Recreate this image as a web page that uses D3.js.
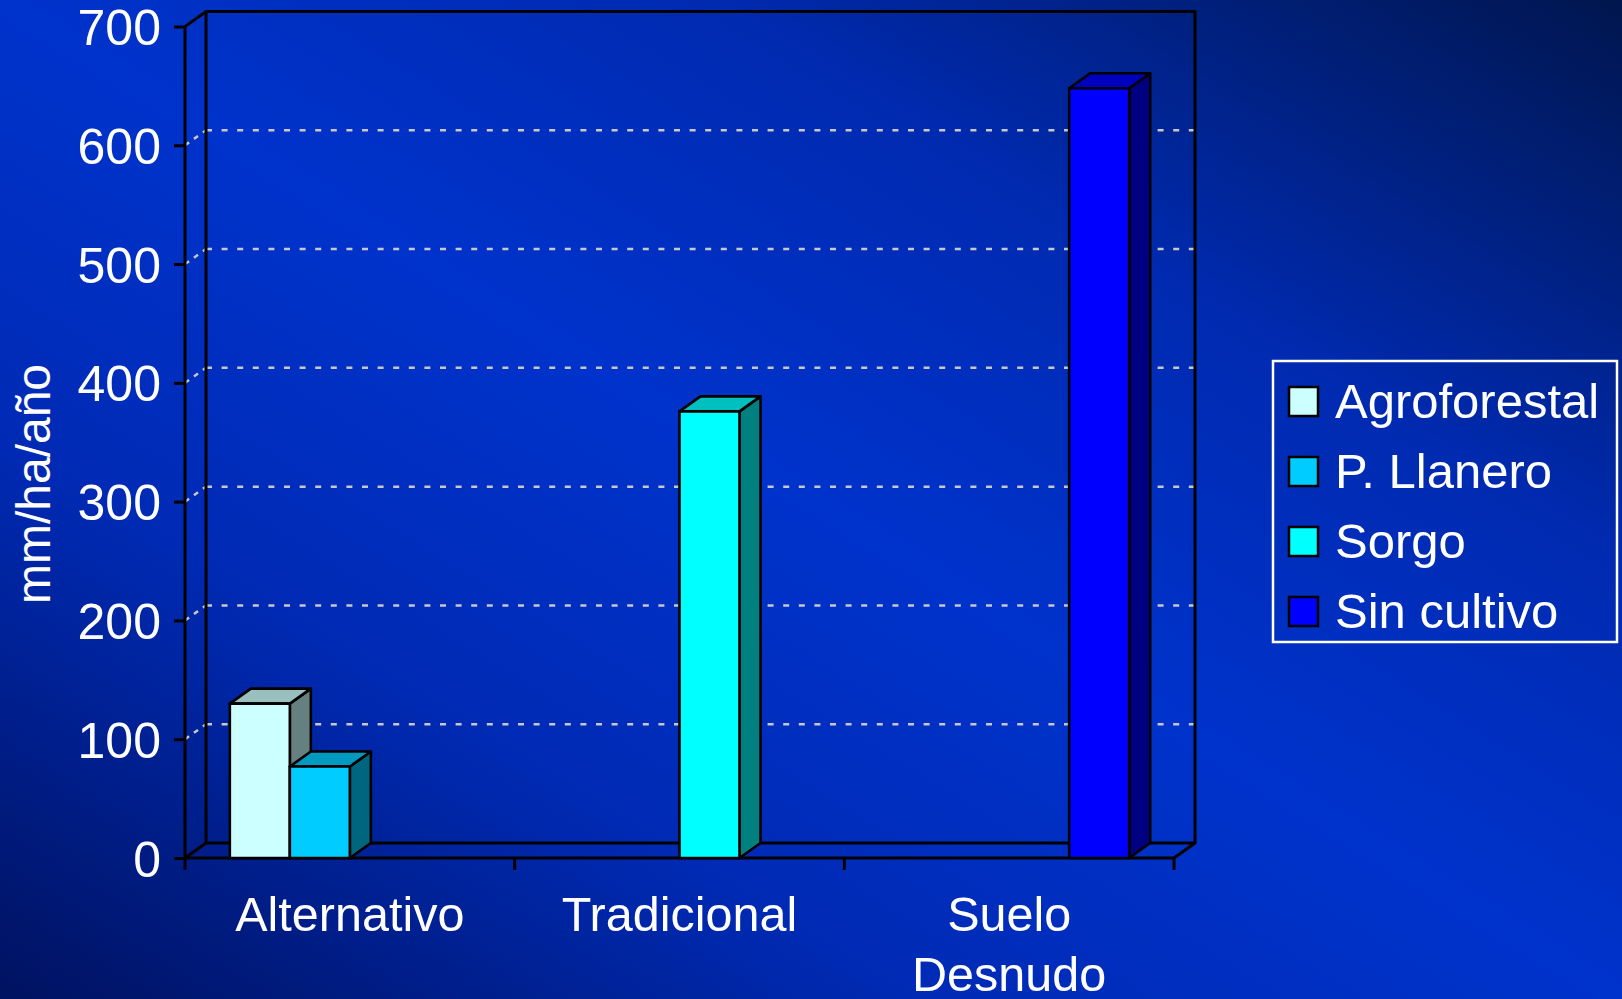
<!DOCTYPE html>
<html>
<head>
<meta charset="utf-8">
<script src="https://cdn.jsdelivr.net/npm/d3@7"></script>
<style>
  html, body { margin: 0; padding: 0; background: #0030c0; }
  svg { display: block; }
  text { font-family: "Liberation Sans", Arial, sans-serif; fill: #ffffff; }
</style>
</head>
<body>
<svg id="chart" width="1622" height="999"></svg>
<script>
// Erosión anual por sistema de uso del suelo (mm/ha/año)
const categories = ["Alternativo", "Tradicional", "Suelo Desnudo"];
const seriesNames = ["Agroforestal", "P. Llanero", "Sorgo", "Sin cultivo"];
const agroforestal = [130, 0, 0];
const pLlanero = [77, 0, 0];
const sorgo = [0, 376, 0];
const sinCultivo = [0, 0, 648];
const yTicks = [0, 100, 200, 300, 400, 500, 600, 700];
const seriesColors = ["#ccffff", "#00ccff", "#00ffff", "#0000ff"];

const seriesValues = [agroforestal, pLlanero, sorgo, sinCultivo];

const svg = d3.select("#chart");
const W = 1622, H = 999;

// background gradient
const defs = svg.append("defs");
const grad = defs.append("linearGradient")
  .attr("id", "bg").attr("x1", 0).attr("y1", 1).attr("x2", 1).attr("y2", 0);
[[0, "#001260"], [0.28, "#002ab4"], [0.5, "#0033cc"], [0.72, "#002ab0"], [1, "#00164e"]]
  .forEach(([o, c]) => grad.append("stop").attr("offset", o).attr("stop-color", c));
svg.append("rect").attr("width", W).attr("height", H).attr("fill", "url(#bg)");

// 3D plot geometry: front plane and depth offset to the back wall
const DX = 21, DY = -15;
const x0 = d3.scaleBand().domain(categories).range([185, 1174]).paddingInner(0).paddingOuter(0);
const bw = x0.bandwidth();
const x1 = d3.scaleBand().domain(seriesNames).range([bw * 0.136, bw * 0.864]).padding(0);
const y = d3.scaleLinear().domain([0, 700]).range([858, 26.5]);

const xL = x0.range()[0], xR = x0.range()[1];
const y0 = y(0), yTop = y(700);

// back wall and left wall gridlines
const grid = svg.append("g");
yTicks.filter(v => v > 0).forEach(v => {
  grid.append("line")
    .attr("x1", xL + DX).attr("x2", xR + DX)
    .attr("y1", y(v) + DY).attr("y2", y(v) + DY)
    .attr("stroke", "#c8c8c8").attr("stroke-width", 2.5)
    .attr("stroke-dasharray", "6,9.6");
  grid.append("line")
    .attr("x1", xL).attr("x2", xL + DX)
    .attr("y1", y(v)).attr("y2", y(v) + DY)
    .attr("stroke", "#c8c8c8").attr("stroke-width", 2.5)
    .attr("stroke-dasharray", "5,6");
});

// walls and floor outlines
const line = d3.line();
const outline = svg.append("g").attr("fill", "none").attr("stroke", "#000").attr("stroke-width", 3)
  .attr("stroke-linejoin", "round");
outline.append("path").attr("d", line([[xL + DX, y0 + DY], [xL + DX, yTop + DY], [xR + DX, yTop + DY], [xR + DX, y0 + DY]]));
outline.append("path").attr("d", line([[xL, y0], [xL, yTop], [xL + DX, yTop + DY]]));
outline.append("path").attr("d", line([[xL, y0], [xR, y0], [xR + DX, y0 + DY], [xL + DX, y0 + DY], [xL, y0]]));

// y axis ticks and labels
const yAxis = d3.axisLeft(y).tickValues(yTicks).tickSize(11).tickPadding(13);
const yg = svg.append("g").attr("transform", `translate(${xL},0)`).call(yAxis);
yg.select(".domain").remove();
yg.selectAll(".tick line").attr("stroke", "#000").attr("stroke-width", 3);
yg.selectAll(".tick text")
  .attr("font-size", 50).attr("fill", "#fff").attr("dy", "0.36em")
  .style("font-family", '"Liberation Sans", Arial, sans-serif');

// x axis ticks at category boundaries
const xBounds = categories.map(c => x0(c)).concat([xR]);
svg.append("g").selectAll("line").data(xBounds).join("line")
  .attr("x1", d => d).attr("x2", d => d)
  .attr("y1", y0).attr("y2", y0 + 12)
  .attr("stroke", "#000").attr("stroke-width", 3);

// category labels (the long one wraps onto two lines)
const xl = svg.append("g").attr("text-anchor", "middle").attr("font-size", 48.5);
categories.forEach(c => {
  const words = c === "Suelo Desnudo" ? ["Suelo", "Desnudo"] : [c];
  const cx = x0(c) + bw / 2;
  const t = xl.append("text").attr("x", cx).attr("y", 931);
  words.forEach((w, j) => t.append("tspan").attr("x", cx).attr("dy", j === 0 ? 0 : 60).text(w));
});

// y axis title
svg.append("text")
  .attr("transform", "translate(50,484) rotate(-90)")
  .attr("text-anchor", "middle").attr("font-size", 48)
  .text("mm/ha/año");

// bars (3D boxes), drawn left to right so right-hand faces overlap correctly
const bars = [];
categories.forEach((c, ci) => {
  seriesNames.forEach((s, si) => {
    const v = seriesValues[si][ci];
    if (v > 0) bars.push({ c, s, v, color: seriesColors[si] });
  });
});
bars.sort((a, b) => (x0(a.c) + x1(a.s)) - (x0(b.c) + x1(b.s)));

const barG = svg.append("g").attr("stroke", "#000").attr("stroke-width", 2.6).attr("stroke-linejoin", "round");
bars.forEach(b => {
  const xa = x0(b.c) + x1(b.s), xb = xa + x1.bandwidth();
  const yt = y(b.v);
  const base = d3.color(b.color);
  const topC = d3.rgb(base.r * 0.75, base.g * 0.75, base.b * 0.75);
  const sideC = d3.rgb(base.r * 0.5, base.g * 0.5, base.b * 0.5);
  // side face
  barG.append("path")
    .attr("d", line([[xb, yt], [xb + DX, yt + DY], [xb + DX, y0 + DY], [xb, y0]]) + "Z")
    .attr("fill", sideC.formatHex());
  // top face
  barG.append("path")
    .attr("d", line([[xa, yt], [xa + DX, yt + DY], [xb + DX, yt + DY], [xb, yt]]) + "Z")
    .attr("fill", topC.formatHex());
  // front face
  barG.append("path")
    .attr("d", line([[xa, yt], [xb, yt], [xb, y0], [xa, y0]]) + "Z")
    .attr("fill", b.color);
});

// legend
const lg = svg.append("g");
lg.append("rect").attr("x", 1273).attr("y", 361).attr("width", 344).attr("height", 281)
  .attr("fill", "none").attr("stroke", "#fff").attr("stroke-width", 2.5);
seriesNames.forEach((s, i) => {
  const yy = 387 + i * 70;
  lg.append("rect").attr("x", 1289).attr("y", yy).attr("width", 29).attr("height", 29)
    .attr("fill", seriesColors[i]).attr("stroke", "#000").attr("stroke-width", 2.5);
  lg.append("text").attr("x", 1335).attr("y", yy + 31).attr("font-size", 49).text(s);
});
</script>
</body>
</html>
